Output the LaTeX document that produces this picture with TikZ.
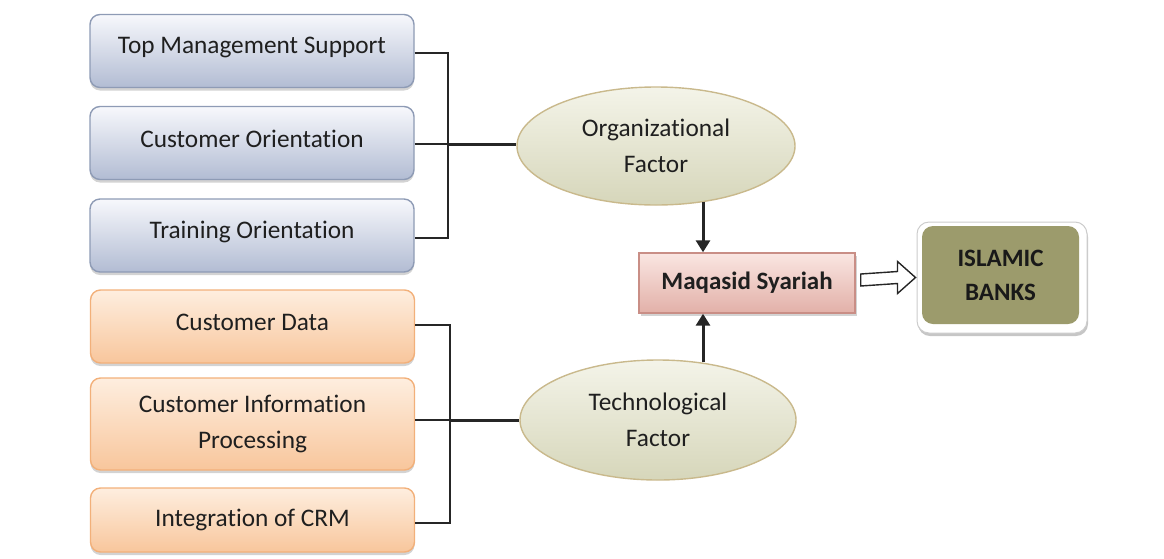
\documentclass[tikz,border=0pt]{standalone}
\usepackage{fontspec}
\setmainfont{Carlito}[Ligatures=NoCommon]
\usetikzlibrary{calc,shadows,arrows.meta,shapes.geometric}
\definecolor{bluebd}{HTML}{8E9BB5}
\definecolor{bluetop}{HTML}{F7F8FC}
\definecolor{bluebot}{HTML}{B2BCD3}
\definecolor{orbd}{HTML}{F2B07A}
\definecolor{ortop}{HTML}{FEEEDF}
\definecolor{orbot}{HTML}{F8C69C}
\definecolor{elbd}{HTML}{C9B98C}
\definecolor{eltop}{HTML}{F4F4E9}
\definecolor{elbot}{HTML}{D6D6BA}
\definecolor{mqbd}{HTML}{C98E86}
\definecolor{mqtop}{HTML}{FAE6E2}
\definecolor{mqbot}{HTML}{E2B0A8}
\definecolor{olive}{HTML}{9C9B6C}
\newcommand{\up}[1]{\raisebox{4pt}[\height][\depth]{#1}}
\begin{document}
\begin{tikzpicture}[x=1pt,y=-1pt,
  every node/.style={font=\fontsize{25.3}{36}\selectfont, text=black!88, align=center},
  basebox/.style={rounded corners=10pt, line width=1.4pt, minimum width=324pt,
    drop shadow={opacity=0.35, shadow xshift=0pt, shadow yshift=-3pt}},
  bluebox/.style={basebox, draw=bluebd, top color=bluetop, bottom color=bluebot},
  orbox/.style={basebox, draw=orbd, top color=ortop, bottom color=orbot},
  factor/.style={ellipse, draw=elbd, line width=1.4pt, top color=eltop, bottom color=elbot,
    minimum width=278pt, minimum height=118pt, inner sep=0pt},
  link/.style={line width=1.6pt, black!85},
  trunk/.style={line width=3pt, black!85},
  arr/.style={line width=3pt, black!85, -{Triangle[length=12pt,width=14pt]}}
]
\useasboundingbox (0,0) rectangle (1164,558);
% blue boxes
\node[bluebox, minimum height=73pt] (tms) at (252,51) {\up{Top Management Support}};
\node[bluebox, minimum height=73pt] (co) at (252,143) {\up{Customer Orientation}};
\node[bluebox, minimum height=73pt] (to) at (252,235.5) {\up{Training Orientation}};
% orange boxes
\node[orbox, minimum height=73pt] (cd) at (252.5,326.5) {\up{Customer Data}};
\node[orbox, minimum height=92pt] (cip) at (252.5,424) {Customer Information\\Processing};
\node[orbox, minimum height=64pt] (crm) at (252.5,520) {Integration of CRM};
% ellipses
\node[factor] (org) at (656,146) {Organizational\\Factor};
\node[factor, minimum width=276pt, minimum height=120pt] (tech) at (658,420) {Technological\\Factor};
% Maqasid
\node[draw=mqbd, line width=1.4pt, top color=mqtop, bottom color=mqbot,
  minimum width=216pt, minimum height=60pt, font=\fontsize{25}{36}\selectfont\bfseries,
  drop shadow={opacity=0.35, shadow xshift=2pt, shadow yshift=-3pt}] (mq) at (747,283) {Maqasid Syariah};
% Islamic banks
\node[rounded corners=12pt, draw=black!20, fill=white, line width=1pt,
  minimum width=170pt, minimum height=111pt,
  drop shadow={opacity=0.45, shadow xshift=1pt, shadow yshift=-3pt}] (ibo) at (1002,277.5) {};
\node[rounded corners=11pt, fill=olive, minimum width=157pt, minimum height=98pt,
  font=\fontsize{25}{34}\selectfont\bfseries, text=black!90] (ib) at (1000.5,275) {ISLAMIC\\BANKS};
% brackets top
\coordinate (bx1) at (448,0);
\draw[link] (tms.east |- 0,53) -- (bx1 |- 0,53) -- (bx1 |- 0,238) -- (to.east |- 0,238);
\draw[link] (co.east |- 0,144) -- (bx1 |- 0,144);
\draw[trunk] (bx1 |- 0,144) -- (org.west |- 0,144);
% brackets bottom
\coordinate (bx2) at (450,0);
\draw[link] (cd.east |- 0,325) -- (bx2 |- 0,325) -- (bx2 |- 0,523) -- (crm.east |- 0,523);
\draw[link] (cip.east |- 0,420) -- (bx2 |- 0,420);
\draw[trunk] (bx2 |- 0,420) -- (tech.west |- 0,420);
% arrows to Maqasid
\coordinate (ax) at (703,0);
\draw[arr] ($(org.south -| ax)+(0,-4)$) -- (mq.north -| ax);
\draw[arr] ($(tech.north -| ax)+(0,3)$) -- (mq.south -| ax);
% open arrow
\coordinate (oa1) at ($(mq.east)+(5,-3)$);
\coordinate (oa2) at ($(ibo.west)+(-1,0)$);
\draw[line width=1.4pt, black!85, fill=white, line join=miter]
  ($(oa1)+(0,-6)$) -- ($(oa2)+(-18,-6)$) -- ($(oa2)+(-18,-16)$) -- (oa2)
  -- ($(oa2)+(-18,16)$) -- ($(oa2)+(-18,6)$) -- ($(oa1)+(0,6)$) -- cycle;
\end{tikzpicture}
\end{document}
